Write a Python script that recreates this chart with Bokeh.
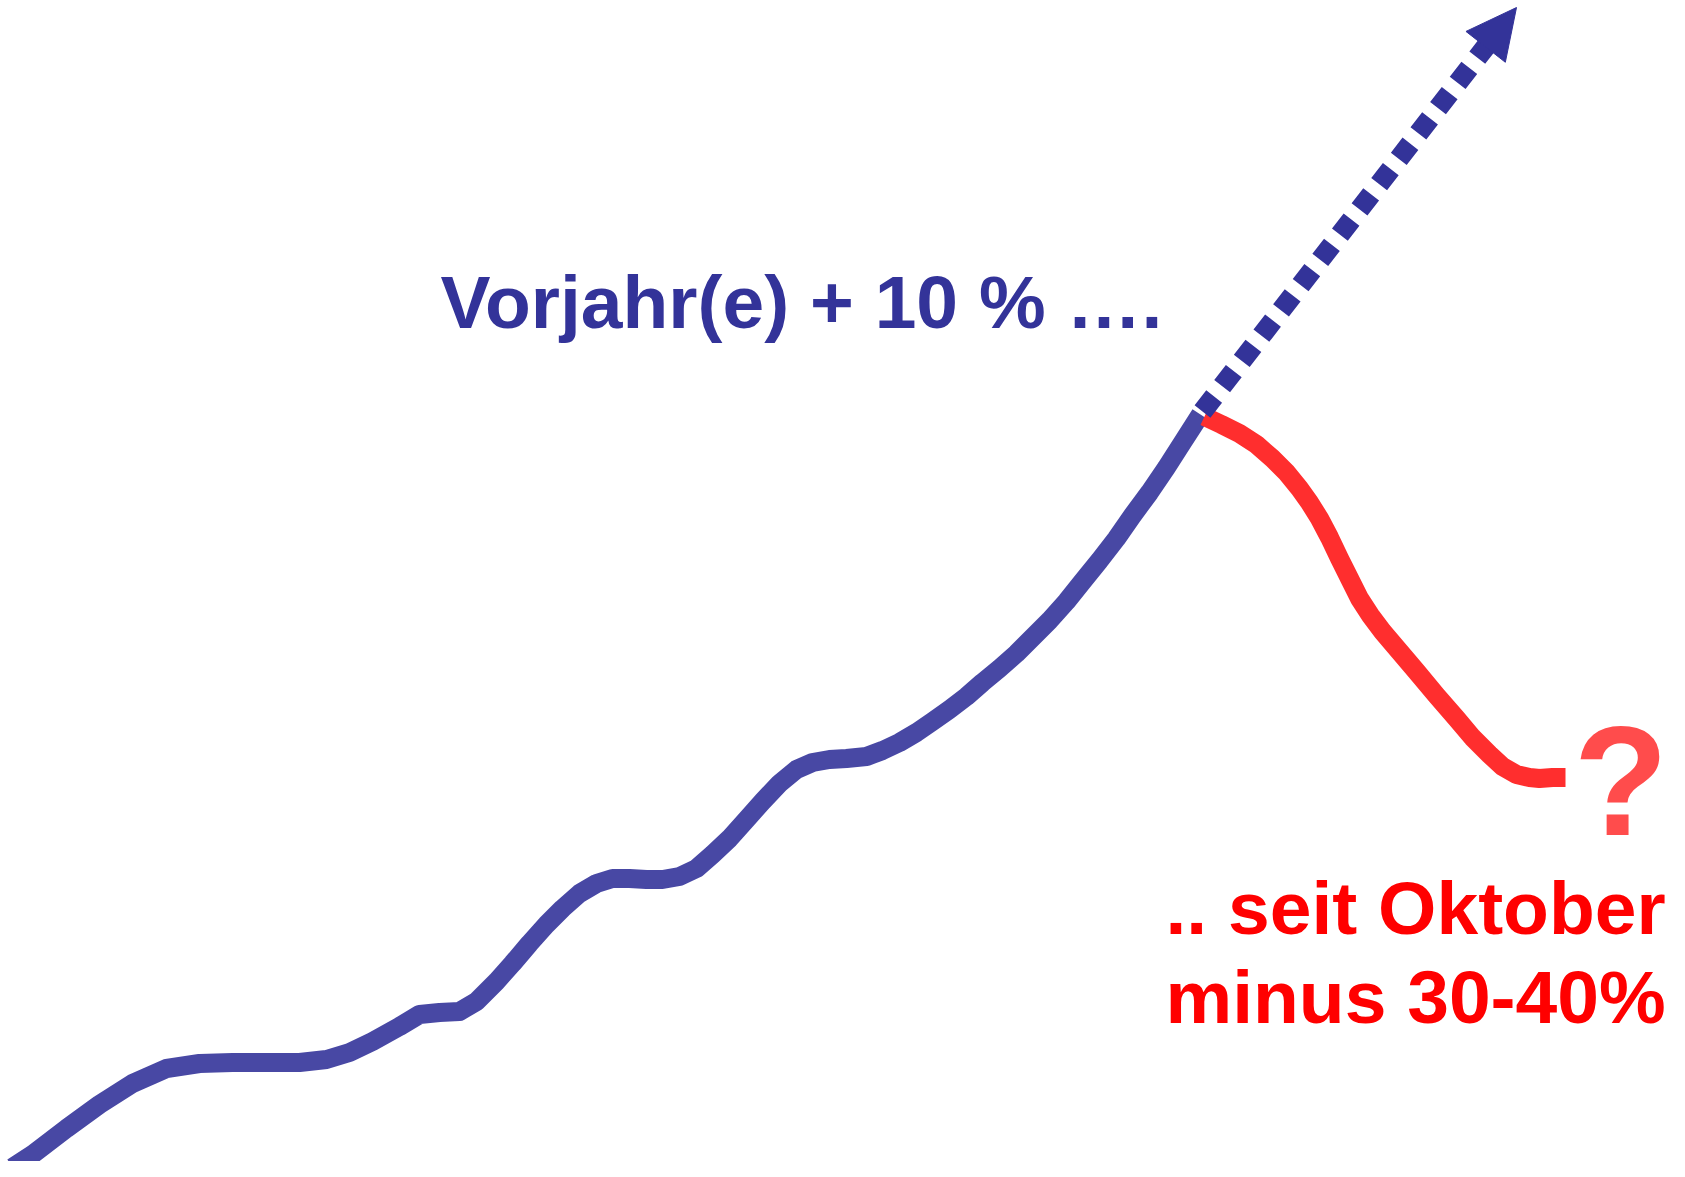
from bokeh.plotting import figure
from bokeh.models import Range1d, Arrow, NormalHead
from bokeh.core.properties import value
from bokeh.embed import file_html
from bokeh.resources import INLINE

# ---- data (level counted upwards) ----
H = 1177
growth_x = [13, 33, 67, 100, 133, 167, 200, 233, 267, 300, 327, 350, 373, 400, 420, 440, 460,
            477, 497, 513, 530, 547, 563, 580, 597, 613, 630, 647, 663, 680, 697, 713, 730,
            747, 763, 780, 797, 813, 830, 847, 867, 883, 900, 917, 933, 950, 967, 983, 1000,
            1017, 1033, 1050, 1067, 1083, 1100, 1117, 1133, 1150, 1167, 1183, 1201]
growth_y = [1166, 1153, 1127, 1103, 1082, 1067, 1062, 1061, 1061, 1061, 1058, 1051, 1040, 1025,
            1013, 1011, 1010, 1000, 980, 962, 942, 923, 907, 892, 882, 877, 877, 878, 878, 875,
            867, 853, 837, 818, 800, 782, 768, 761, 758, 757, 755, 749, 741, 731, 720, 708,
            695, 681, 667, 652, 636, 619, 600, 580, 559, 537, 514, 491, 466, 441, 413]
growth_level = [H - v for v in growth_y]

drop_x = [1205, 1222, 1240, 1257, 1273, 1287, 1300, 1310, 1320, 1330, 1340, 1350, 1360, 1371,
          1383, 1400, 1417, 1437, 1457, 1473, 1490, 1503, 1517, 1530, 1540, 1553, 1566]
drop_y = [415, 423, 432, 443, 457, 471, 487, 501, 517, 536, 557, 577, 597, 614, 630, 650, 670,
          694, 717, 736, 753, 765, 773, 776, 777, 776, 776]
drop_level = [H - v for v in drop_y]

# dotted trend: start at the peak, head base, head tip
trend_x = [1203, 1488, 1517]
trend_level = [H - 410, H - 43, H - 6]

label_top = "Vorjahr(e) + 10 % …."
label_top_x = [441]
label_top_level = [H - 300]
label_red = [".. seit Oktober", "minus 30-40%"]
label_red_x = [1166, 1166]
label_red_level = [H - 906, H - 995]
question = "?"
question_x = [1574]
question_level = [H - 780]

BLUE = "#333399"
BLUE_LINE = "#4848a4"
RED = "#ff0000"
RED_LINE = "#ff2e2e"
RED_Q = "#ff4c4c"

p = figure(width=1669, height=1161, output_backend="svg", toolbar_location=None,
           x_range=Range1d(1, 1670), y_range=Range1d(17, 1178),
           min_border=0, outline_line_color=None)
p.axis.visible = False
p.grid.visible = False
p.background_fill_color = "white"
p.border_fill_color = "white"

p.line(growth_x, growth_level, line_color=BLUE_LINE, line_width=19,
       line_join="round", line_cap="butt")
p.line(drop_x, drop_level, line_color=RED_LINE, line_width=19,
       line_join="round", line_cap="butt")

# dotted part of the trend, then the arrow head
p.line(trend_x[:2], trend_level[:2], line_color=BLUE, line_width=20,
       line_dash="19 13", line_cap="butt")
p.add_layout(Arrow(end=NormalHead(size=50, fill_color=BLUE, line_color=BLUE, line_width=1),
                   x_start=trend_x[1], y_start=trend_level[1],
                   x_end=trend_x[2], y_end=trend_level[2],
                   line_color=BLUE, line_width=1, line_alpha=0))

p.text(x=label_top_x, y=label_top_level, text=[label_top],
       text_font=value("Liberation Sans"), text_font_style="bold",
       text_font_size="75px", text_color=BLUE,
       text_align="left", text_baseline="alphabetic")

p.text(x=label_red_x, y=label_red_level, text=label_red,
       text_font=value("Liberation Sans"), text_font_style="bold",
       text_font_size="75px", text_color=RED,
       text_align="left", text_baseline="alphabetic")

p.text(x=question_x, y=question_level, text=[question],
       text_font=value("Liberation Sans"), text_font_style="bold",
       text_font_size="155px", text_color=RED_Q,
       text_align="left", text_baseline="alphabetic")

open("out.html", "w").write(file_html(p, INLINE))
